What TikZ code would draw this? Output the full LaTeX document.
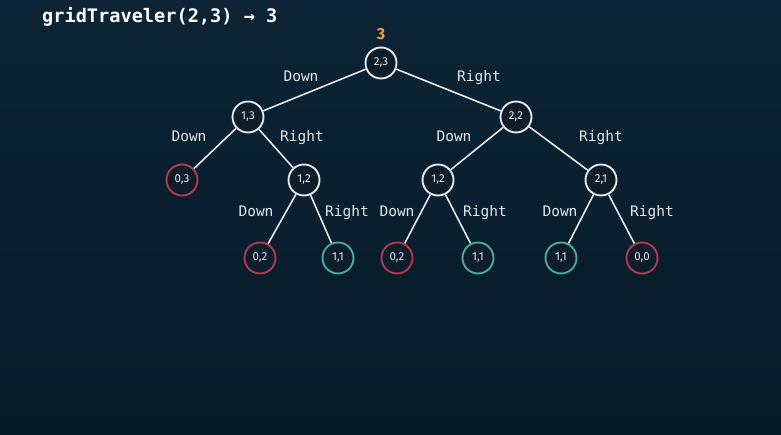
\documentclass[tikz,border=0pt]{standalone}
\usepackage{fontspec}
\setmainfont{Fira Sans}
\newfontfamily\monof{DejaVu Sans Mono}
\definecolor{bgtop}{HTML}{0C2435}
\definecolor{bgbot}{HTML}{071A28}
\definecolor{nodefill}{HTML}{0E1D2A}
\definecolor{wline}{HTML}{E2E8EC}
\definecolor{redc}{HTML}{B23A50}
\definecolor{tealc}{HTML}{4AA9A2}
\definecolor{orangec}{HTML}{E8A53E}
\begin{document}
\begin{tikzpicture}[x=1pt,y=-1pt,
  tnode/.style={circle,draw=wline,line width=1.9pt,fill=nodefill,minimum size=31pt,inner sep=0pt,text=wline,font=\fontsize{11.5}{12}\selectfont},
  rnode/.style={tnode,draw=redc},
  gnode/.style={tnode,draw=tealc},
  edge/.style={draw=wline,line width=1.6pt},
  lbl/.style={text=wline,font=\monof\fontsize{14.5}{16}\selectfont,inner sep=0pt,anchor=base}]
\shade[top color=bgtop,bottom color=bgbot] (0,0) rectangle (781,435);
\useasboundingbox (0,0) rectangle (781,435);
\node[anchor=west,text=white,font=\monof\bfseries\fontsize{18.6}{20}\selectfont,inner sep=0pt] (title) at (42,17) {gridTraveler(2,3) → 3};
\node[text=orangec,font=\bfseries\fontsize{16}{18}\selectfont,inner sep=0pt] (res) at (381,34) {3};
\node[tnode] (a) at (381,63) {2,3};
\node[tnode] (b) at (248,117) {1,3};
\node[tnode] (c) at (516,117) {2,2};
\node[rnode] (d) at (182,180) {0,3};
\node[tnode] (e) at (304,180) {1,2};
\node[tnode] (f) at (438,180) {1,2};
\node[tnode] (g) at (601,180) {2,1};
\node[rnode] (h) at (260,258) {0,2};
\node[gnode] (i) at (338,258) {1,1};
\node[rnode] (j) at (397,258) {0,2};
\node[gnode] (k) at (478,258) {1,1};
\node[gnode] (l) at (561,258) {1,1};
\node[rnode] (m) at (642,258) {0,0};
\draw[edge] (a) -- (b);
\draw[edge] (a) -- (c);
\draw[edge] (b) -- (d);
\draw[edge] (b) -- (e);
\draw[edge] (c) -- (f);
\draw[edge] (c) -- (g);
\draw[edge] (e) -- (h);
\draw[edge] (e) -- (i);
\draw[edge] (f) -- (j);
\draw[edge] (f) -- (k);
\draw[edge] (g) -- (l);
\draw[edge] (g) -- (m);
\node[lbl] (l1) at (301,82) {Down};
\node[lbl] (l2) at (479,82) {Right};
\node[lbl] (l3) at (189,142) {Down};
\node[lbl] (l4) at (302,142) {Right};
\node[lbl] (l5) at (454,142) {Down};
\node[lbl] (l6) at (601,142) {Right};
\node[lbl] (l7) at (256,217) {Down};
\node[lbl] (l8) at (347,217) {Right};
\node[lbl] (l9) at (397,217) {Down};
\node[lbl] (l10) at (485,217) {Right};
\node[lbl] (l11) at (560,217) {Down};
\node[lbl] (l12) at (652,217) {Right};
\end{tikzpicture}
\end{document}
